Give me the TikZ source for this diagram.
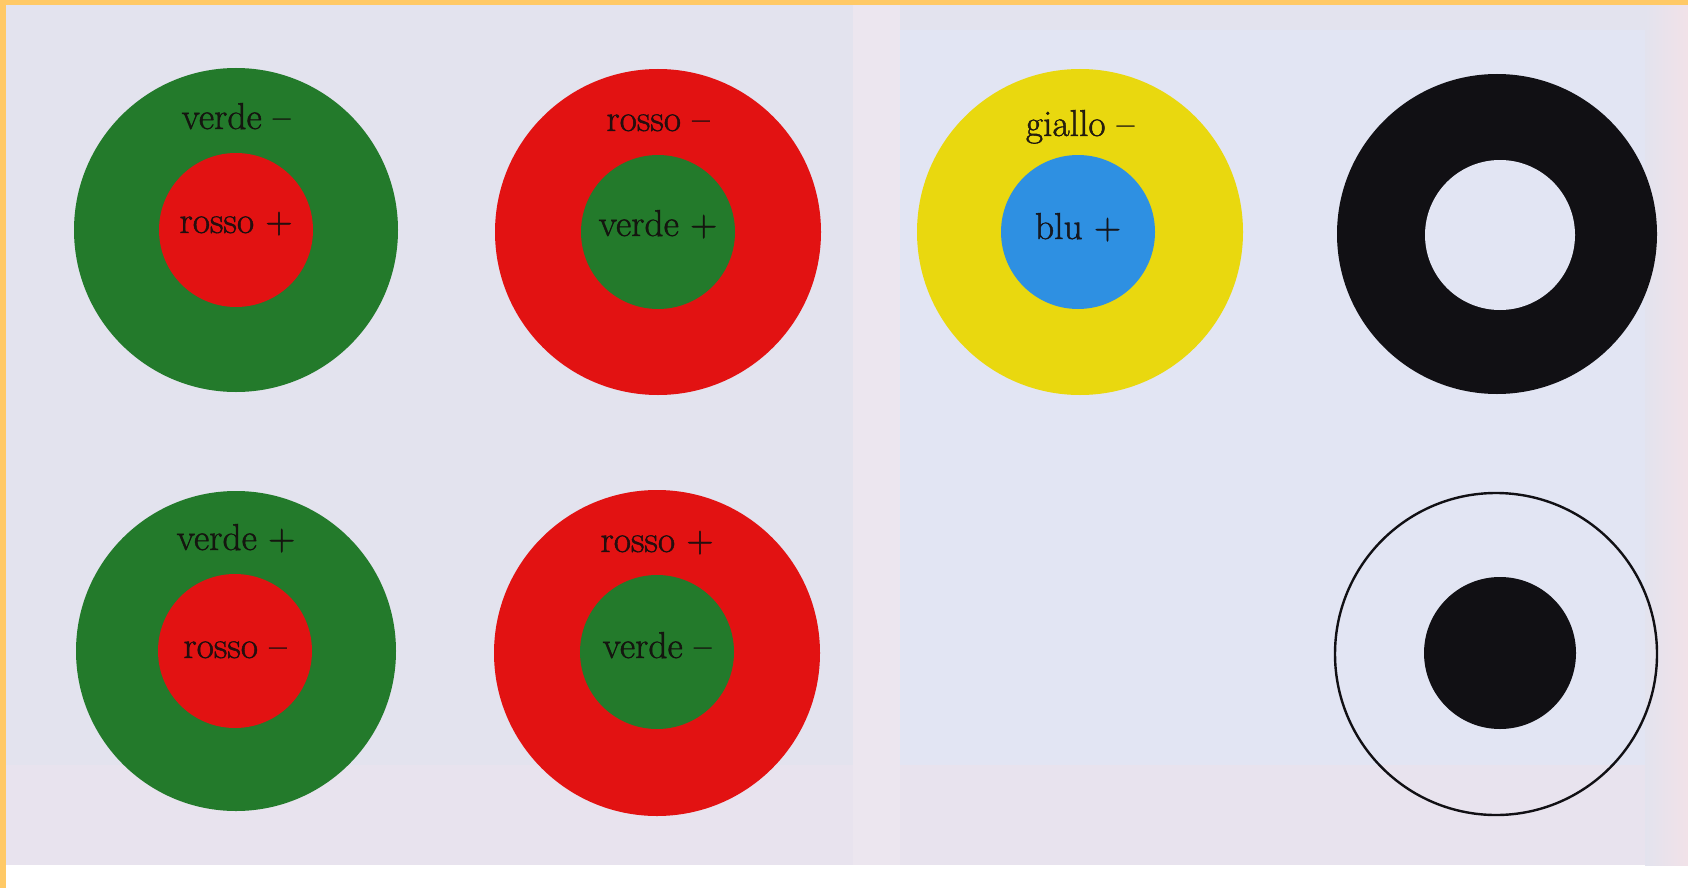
\documentclass[tikz,border=0pt]{standalone}
\usepackage{fontspec}
\setmainfont{Latin Modern Roman}[FakeBold=1.2]
\definecolor{orangeb}{HTML}{FFC966}
\definecolor{paper}{HTML}{E3E3EE}
\definecolor{panel}{HTML}{E2E5F3}
\definecolor{gutter}{HTML}{ECE6EF}
\definecolor{lowband}{HTML}{E8E3EE}
\definecolor{cgreen}{HTML}{237A2B}
\definecolor{cred}{HTML}{E21212}
\definecolor{cyellow}{HTML}{E9D80F}
\definecolor{cblue}{HTML}{2E90E2}
\definecolor{cblack}{HTML}{111014}
\definecolor{ink}{HTML}{140E0E}
\tikzset{
  disk/.style={circle, inner sep=0pt, minimum size=#1},
  lbl/.style={anchor=base, inner sep=0pt, text=ink, text opacity=0.9, font=\fontsize{37.5}{44}\selectfont}
}
\begin{document}
\begin{tikzpicture}[x=1pt,y=-1pt]
\useasboundingbox (0,0) rectangle (1688,888);
% background
\fill[white] (0,0) rectangle (1688,888);
\fill[paper] (0,0) rectangle (1688,865);
\fill[lowband] (0,765) rectangle (1688,865);
\fill[gutter] (853,0) rectangle (900,865);
\fill[panel] (900,30) rectangle (1650,765);
\shade[left color=paper, right color=gutter!80!pink!90] (1645,0) rectangle (1688,865);
\fill[orangeb] (0,0) rectangle (1688,5);
\fill[orangeb] (0,0) rectangle (6,888);
% circle 1: verde - / rosso +
\node[disk=324pt, fill=cgreen] (o1) at (236,230) {};
\node[disk=154pt, fill=cred] (i1) at (236,230) {};
\node[lbl] (t1a) at (236,129) {verde --};
\node[lbl] (t1b) at (236,233) {rosso +};
% circle 2: rosso - / verde +
\node[disk=326pt, fill=cred] (o2) at (658,232) {};
\node[disk=154pt, fill=cgreen] (i2) at (658,232) {};
\node[lbl] (t2a) at (658,131) {rosso --};
\node[lbl] (t2b) at (658,236) {verde +};
% circle 3: giallo - / blu +
\node[disk=326pt, fill=cyellow] (o3) at (1080,232) {};
\node[disk=154pt, fill=cblue] (i3) at (1078,232) {};
\node[lbl] (t3a) at (1080,136) {giallo --};
\node[lbl] (t3b) at (1078,239) {blu +};
% black ring
\node[disk=320pt, fill=cblack] (o4) at (1497,234) {};
\node[disk=150pt, fill=panel] (i4) at (1500,235) {};
% circle 5: verde + / rosso -
\node[disk=320pt, fill=cgreen] (o5) at (236,651) {};
\node[disk=154pt, fill=cred] (i5) at (235,651) {};
\node[lbl] (t5a) at (236,550) {verde +};
\node[lbl] (t5b) at (235,658) {rosso --};
% circle 6: rosso + / verde -
\node[disk=326pt, fill=cred] (o6) at (657,653) {};
\node[disk=154pt, fill=cgreen] (i6) at (657,652) {};
\node[lbl] (t6a) at (657,552) {rosso +};
\node[lbl] (t6b) at (657,658) {verde --};
% outline circle with black dot
\node[disk=322pt, draw=cblack, line width=2.4pt] (o7) at (1496,654) {};
\node[disk=152pt, fill=cblack] (i7) at (1500,653) {};
\end{tikzpicture}
\end{document}
